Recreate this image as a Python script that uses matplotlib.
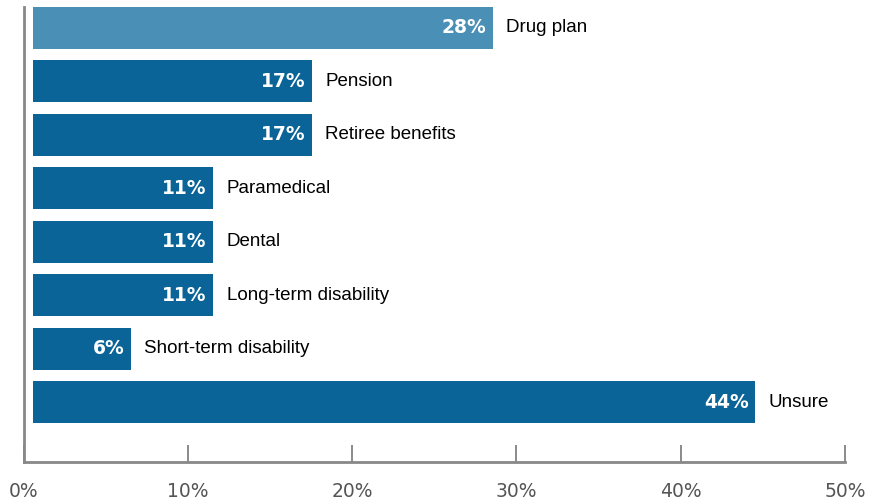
import matplotlib.pyplot as plt

categories = ['Drug plan', 'Pension', 'Retiree benefits', 'Paramedical', 'Dental',
              'Long-term disability', 'Short-term disability', 'Unsure']
values = [28, 17, 17, 11, 11, 11, 6, 44]
tick_vals = [0, 10, 20, 30, 40, 50]
tick_labels = ['0%', '10%', '20%', '30%', '40%', '50%']

dark = '#0b6497'
light = '#4a8fb6'
colors = [light] + [dark] * (len(values) - 1)

fig = plt.figure(figsize=(8.81, 4.99), dpi=100)
ax = fig.add_axes([0.027, 0.074, 0.932, 0.926])

n = len(values)
ypos = [n - 1 - i for i in range(n)]
offset = 0.55  # bars start a little right of the axis

ax.barh(ypos, values, left=offset, height=0.78, color=colors)

for y, v, c in zip(ypos, values, categories):
    ax.text(v + offset - 0.4, y, f'{v}%', ha='right', va='center', color='white',
            fontsize=13.5, fontweight='heavy', family='DejaVu Sans')
    ax.text(v + offset + 0.8, y, c, ha='left', va='center', color='black',
            fontsize=13.5, family='Liberation Sans')

ax.set_xlim(0, 50)
ax.set_ylim(-1.12, 7.52)
ax.set_xticks(tick_vals)
ax.set_xticklabels(tick_labels, color='#555555', fontsize=13.5, family='DejaVu Sans')
ax.tick_params(axis='x', direction='in', length=12, width=1.2, color='#777777', pad=14)
ax.set_yticks([])

for s in ['top', 'right']:
    ax.spines[s].set_visible(False)
ax.spines['left'].set_color('#888888')
ax.spines['bottom'].set_color('#888888')
ax.spines['left'].set_linewidth(2)
ax.spines['bottom'].set_linewidth(2)
ax.spines['left'].set_bounds(-1.12, 7.38)

fig.savefig('out.png', dpi=100)
